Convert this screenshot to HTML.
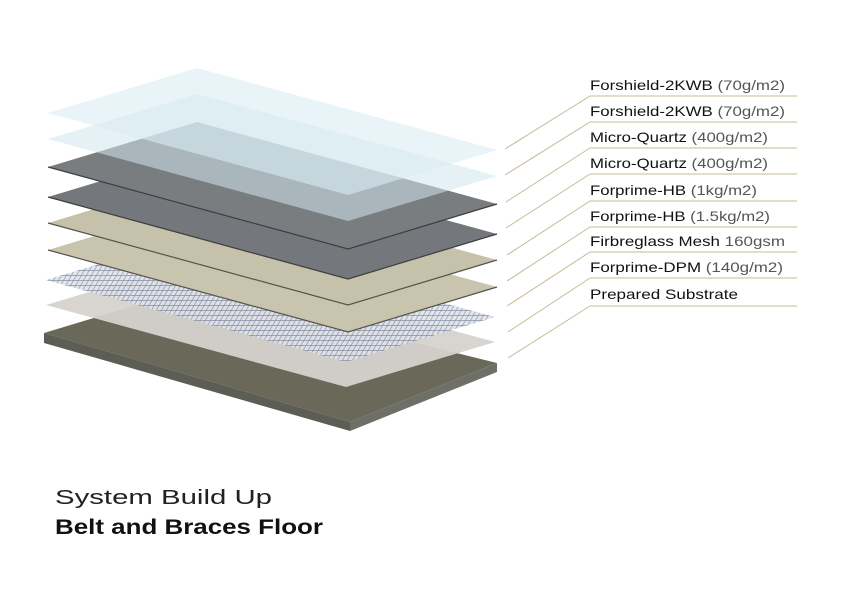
<!DOCTYPE html>
<html><head><meta charset="utf-8"><style>
html,body{margin:0;padding:0;background:#fff;}
svg{display:block}
text{font-family:"Liberation Sans",sans-serif;}
</style></head><body>
<svg width="843" height="596" viewBox="0 0 843 596" xmlns="http://www.w3.org/2000/svg">
<defs>
<pattern id="mesh" width="5" height="5" patternUnits="userSpaceOnUse" patternTransform="skewX(-30)">
<rect width="5" height="5" fill="#dfe2e8"/>
<path d="M0 0V5M0 0H5" stroke="#7d88a0" stroke-width="1.5"/>
</pattern>
</defs>
<!-- substrate -->
<polygon points="44,333 193,288 497,363 350,422" fill="#6a6858"/>
<polygon points="44,333 350,422 350,431 44,343" fill="#5c5d55"/>
<polygon points="350,422 497,363 497,372 350,431" fill="#6e6f66"/>
<!-- DPM -->
<polygon points="46,305 195,260 495,342 346,387" fill="#d6d2cd" opacity="0.95"/>
<!-- mesh -->
<polygon points="46,280 195,235 495,317 346,362" fill="url(#mesh)" opacity="0.9"/>
<!-- forprime HB -->
<polygon points="48,250 197,205 497,287 348,332" fill="#c9c4ae"/>
<polyline points="48,250 348,332 497,287" fill="none" stroke="#55544c" stroke-width="1.2"/>
<polygon points="48,223 197,178 497,260 348,305" fill="#c6c1ab"/>
<polyline points="48,223 348,305 497,260" fill="none" stroke="#55544c" stroke-width="1.2"/>
<!-- micro quartz -->
<polygon points="48,197 197,152 497,234 348,279" fill="#74777b"/>
<polyline points="48,197 348,279 497,234" fill="none" stroke="#3d3e40" stroke-width="1.2"/>
<polygon points="48,167 197,122 497,204 348,249" fill="#7a7d80"/>
<polyline points="48,167 348,249 497,204" fill="none" stroke="#3d3e40" stroke-width="1.2"/>
<!-- glass -->
<polygon points="48,139 197,94 497,176 348,221" fill="#cfe6ec" opacity="0.55"/>
<polygon points="48,113 197,68 497,150 348,195" fill="#d9edf1" opacity="0.6"/>
<!-- leaders -->
<g stroke="#c9b99a" stroke-width="1" fill="none">
<path d="M590 96H797M590 96L505 149"/>
<path d="M590 122H797M590 122L505 175"/>
<path d="M590 148H797M590 148L506 202"/>
<path d="M590 174H797M590 174L506 228"/>
<path d="M590 201H797M590 201L507 255"/>
<path d="M590 227H797M590 227L507 281"/>
<path d="M590 252H797M590 252L507 306"/>
<path d="M590 278H797M590 278L508 332"/>
<path d="M590 306H797M590 306L508 358"/>
</g>
<g font-size="14" fill="#111" lengthAdjust="spacingAndGlyphs">
<text x="590" y="90" textLength="195" lengthAdjust="spacingAndGlyphs">Forshield-2KWB <tspan fill="#555">(70g/m2)</tspan></text>
<text x="590" y="116" textLength="195" lengthAdjust="spacingAndGlyphs">Forshield-2KWB <tspan fill="#555">(70g/m2)</tspan></text>
<text x="590" y="142" textLength="178" lengthAdjust="spacingAndGlyphs">Micro-Quartz <tspan fill="#555">(400g/m2)</tspan></text>
<text x="590" y="168" textLength="178" lengthAdjust="spacingAndGlyphs">Micro-Quartz <tspan fill="#555">(400g/m2)</tspan></text>
<text x="590" y="195" textLength="167" lengthAdjust="spacingAndGlyphs">Forprime-HB <tspan fill="#555">(1kg/m2)</tspan></text>
<text x="590" y="221" textLength="180" lengthAdjust="spacingAndGlyphs">Forprime-HB <tspan fill="#555">(1.5kg/m2)</tspan></text>
<text x="590" y="246" textLength="195" lengthAdjust="spacingAndGlyphs">Firbreglass Mesh <tspan fill="#555">160gsm</tspan></text>
<text x="590" y="272" textLength="193" lengthAdjust="spacingAndGlyphs">Forprime-DPM <tspan fill="#555">(140g/m2)</tspan></text>
<text x="590" y="299" textLength="148" lengthAdjust="spacingAndGlyphs">Prepared Substrate</text>
</g>
<text x="55" y="504" font-size="20" fill="#222" textLength="217" lengthAdjust="spacingAndGlyphs">System Build Up</text>
<text x="55" y="534" font-size="21" font-weight="bold" fill="#111" textLength="268" lengthAdjust="spacingAndGlyphs">Belt and Braces Floor</text>
</svg>
</body></html>
